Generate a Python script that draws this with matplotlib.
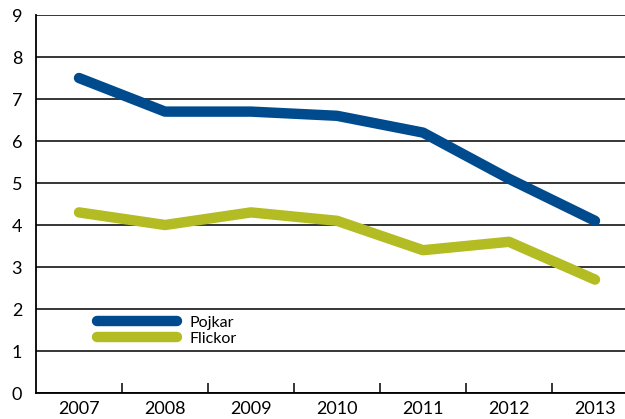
import matplotlib.pyplot as plt
import numpy as np

years = ['2007', '2008', '2009', '2010', '2011', '2012', '2013']
pojkar = [7.5, 6.7, 6.7, 6.6, 6.2, 5.1, 4.1]
flickor = [4.3, 4.0, 4.3, 4.1, 3.4, 3.6, 2.7]

plt.rcParams['font.family'] = ['Lato', 'DejaVu Sans']

fig = plt.figure(figsize=(6.25, 4.19), dpi=100)
ax = fig.add_axes([36/625, 1-393/419, 602/625, 378/419])

X = np.arange(len(years))
ax.plot(X, pojkar, color='#004b8d', lw=7.5, solid_capstyle='round', label='Pojkar', zorder=3)
ax.plot(X, flickor, color='#b3bc22', lw=7.5, solid_capstyle='round', label='Flickor', zorder=3)

ax.set_xlim(-0.5, 6.5)
ax.set_ylim(0, 9)
ax.set_yticks(range(10))
ax.yaxis.grid(True, color='black', lw=1.1)
ax.set_axisbelow(True)
ax.tick_params(axis='y', length=0, labelsize=13, pad=10)

ax.set_xticks(X)
ax.set_xticklabels(years)
ax.set_xticks(np.arange(0.5, 6, 1), minor=True)
ax.tick_params(axis='x', which='major', length=0, labelsize=13, pad=6)
ax.tick_params(axis='x', which='minor', direction='in', length=7, width=1.1, color='black')

for s in ['top', 'right']:
    ax.spines[s].set_visible(False)
for s in ['left', 'bottom']:
    ax.spines[s].set_linewidth(1.3)

ax.legend(loc='center left', bbox_to_anchor=(0.078, 0.165), frameon=False,
          fontsize=11.5, handlelength=5.0, labelspacing=0.1, handletextpad=0.8)

fig.savefig('out.png', dpi=100)
